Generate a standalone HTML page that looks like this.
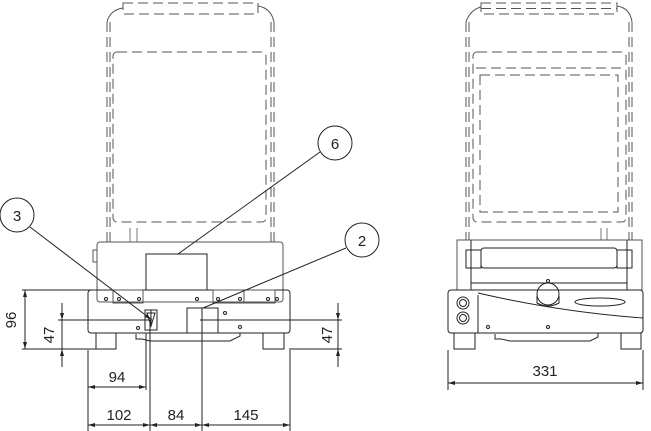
<!DOCTYPE html>
<html><head><style>html,body{margin:0;padding:0;background:#fff}svg{display:block}</style></head><body>
<svg width="651" height="431" viewBox="0 0 651 431" xmlns="http://www.w3.org/2000/svg" font-family="Liberation Sans, sans-serif">
<g fill="none" stroke="#222" stroke-width="1">
<!-- LEFT lid dashed -->
<g stroke="#555" stroke-dasharray="10,5">
<line x1="107" y1="22" x2="107" y2="242"/><line x1="110" y1="22" x2="110" y2="242"/>
<line x1="271" y1="22" x2="271" y2="242"/><line x1="274" y1="22" x2="274" y2="242"/>
<rect x="123" y="3" width="135" height="11"/>
<rect x="113" y="52" width="153" height="170" rx="4"/>
</g>
<path d="M107 22 Q110 10 123 8 M258 6 Q271 8 274 22" stroke="#555"/>
<line x1="130" y1="228" x2="130" y2="242" stroke="#777"/><line x1="137" y1="228" x2="137" y2="242" stroke="#777"/>
<!-- LEFT body -->
<rect x="97" y="242" width="186" height="60" rx="3" stroke="#555"/>
<rect x="93" y="250" width="4" height="12" stroke="#555"/>
<rect x="146" y="254" width="61" height="36"/>
<rect x="88" y="290" width="202" height="43" rx="3"/>
<rect x="113" y="290" width="30" height="13" stroke="#555"/>
<rect x="213" y="290" width="31" height="13" stroke="#555"/>
<rect x="244" y="290" width="31" height="13" stroke="#555"/>
<circle cx="106" cy="299" r="1.5"/><circle cx="119" cy="299" r="1.5"/><circle cx="139" cy="299" r="1.5"/><circle cx="197" cy="299" r="1.5"/><circle cx="218" cy="299" r="1.5"/><circle cx="240" cy="299" r="1.5"/><circle cx="268" cy="299" r="1.5"/><circle cx="277" cy="299" r="1.5"/>
<rect x="96" y="333" width="20" height="16"/><rect x="263" y="333" width="21" height="16"/>
<path d="M136 334 V339 H142 L150 341 H230 L240 336 V333"/>
<rect x="145" y="310" width="12" height="20"/>
<path d="M147 313 H155 L151 326 Z M151 310 V326"/>
<rect x="187" y="308" width="31" height="25"/>
<circle cx="225" cy="313" r="1.5"/><circle cx="138" cy="328" r="1.5"/><circle cx="240" cy="327" r="1.5"/>
<!-- callouts -->
<circle cx="335" cy="143" r="17"/><line x1="320" y1="152" x2="178" y2="254"/>
<circle cx="17" cy="215" r="17"/><line x1="30" y1="227" x2="152" y2="320"/>
<circle cx="362" cy="240" r="17"/><line x1="346" y1="248" x2="203" y2="308"/>
<!-- dims -->
<line x1="22" y1="290" x2="108" y2="290"/><line x1="22" y1="349" x2="96" y2="349"/>
<line x1="25" y1="290" x2="25" y2="349"/>
<line x1="58" y1="320" x2="150" y2="320"/><line x1="62" y1="303" x2="62" y2="367"/>
<line x1="200" y1="320" x2="342" y2="320"/><line x1="289" y1="349" x2="342" y2="349"/><line x1="338" y1="303" x2="338" y2="367"/>
<line x1="88" y1="350" x2="88" y2="431"/><line x1="150" y1="320" x2="150" y2="431"/><line x1="202" y1="308" x2="202" y2="431"/><line x1="290" y1="350" x2="290" y2="431"/>
<line x1="88" y1="387" x2="146" y2="387"/><line x1="146" y1="333" x2="146" y2="390"/>
<line x1="88" y1="425" x2="290" y2="425"/>
<!-- RIGHT lid dashed -->
<g stroke="#555" stroke-dasharray="10,5">
<line x1="466" y1="22" x2="466" y2="240"/><line x1="469" y1="22" x2="469" y2="240"/>
<line x1="629" y1="22" x2="629" y2="240"/><line x1="632" y1="22" x2="632" y2="240"/>
<rect x="481" y="3" width="136" height="11"/>
<line x1="481" y1="8.5" x2="617" y2="8.5"/>
<rect x="473" y="52" width="153" height="170" rx="4"/>
<rect x="480" y="75" width="138" height="137"/>
<line x1="476" y1="68" x2="624" y2="68"/>
</g>
<path d="M466 22 Q470 10 481 7 M617 6 Q630 8 632 22" stroke="#555"/>
<line x1="601" y1="228" x2="601" y2="240" stroke="#777"/><line x1="607" y1="228" x2="607" y2="240" stroke="#777"/>
<!-- RIGHT body -->
<rect x="457" y="240" width="185" height="50" stroke="#555"/>
<rect x="481" y="248" width="136" height="20" rx="3"/>
<rect x="466" y="250" width="15" height="18"/><rect x="617" y="250" width="15" height="18"/>
<line x1="471" y1="240" x2="471" y2="290"/><line x1="627" y1="240" x2="627" y2="290"/>
<line x1="471" y1="283" x2="627" y2="283"/>
<rect x="448" y="290" width="195" height="43" rx="3"/>
<line x1="478" y1="295" x2="478" y2="333"/>
<path d="M478 293 Q560 312 643 318"/>
<ellipse cx="600" cy="302" rx="25" ry="4"/>
<circle cx="463" cy="303" r="6"/><circle cx="463" cy="303" r="3.5"/>
<circle cx="463" cy="318" r="6"/><circle cx="463" cy="318" r="3.5"/>
<circle cx="548" cy="294" r="11"/><path d="M537 296 V303 Q548 309 559 303 V296"/><circle cx="548" cy="281" r="1.5"/>
<circle cx="488" cy="327" r="1.5"/><circle cx="548" cy="327" r="1.5"/>
<rect x="454" y="333" width="21" height="16"/><rect x="621" y="333" width="20" height="16"/>
<path d="M495 334 V339 H501 L510 341 H590 L598 337 V333"/>
<line x1="448" y1="350" x2="448" y2="390"/><line x1="643" y1="350" x2="643" y2="390"/>
<line x1="448" y1="383" x2="643" y2="383"/>
</g>
<g fill="#222">
<path d="M25 290 l-2 7 h4z M25 349 l-2 -7 h4z"/>
<path d="M62 320 l-2 -7 h4z M62 349 l-2 7 h4z"/>
<path d="M338 320 l-2 -7 h4z M338 349 l-2 7 h4z"/>
<path d="M88 387 l7 -2 v4z M146 387 l-7 -2 v4z"/>
<path d="M88 425 l7 -2 v4z M150 425 l-7 -2 v4z M150 425 l7 -2 v4z M202 425 l-7 -2 v4z M202 425 l7 -2 v4z M290 425 l-7 -2 v4z"/>
<path d="M448 383 l7 -2 v4z M643 383 l-7 -2 v4z"/>
<path d="M152 320 l-7 -3 l2 -3z"/>
</g>
<g font-size="15" fill="#222" text-anchor="middle">
<text x="335" y="149">6</text><text x="17" y="221">3</text><text x="362" y="246">2</text>
<text x="117" y="382">94</text>
<text x="119" y="420">102</text><text x="176" y="420">84</text><text x="246" y="420">145</text>
<text x="545" y="376">331</text>
<text transform="translate(16 320) rotate(-90)">96</text>
<text transform="translate(54 335) rotate(-90)">47</text>
<text transform="translate(332 335) rotate(-90)">47</text>
</g>
</svg>
</body></html>
